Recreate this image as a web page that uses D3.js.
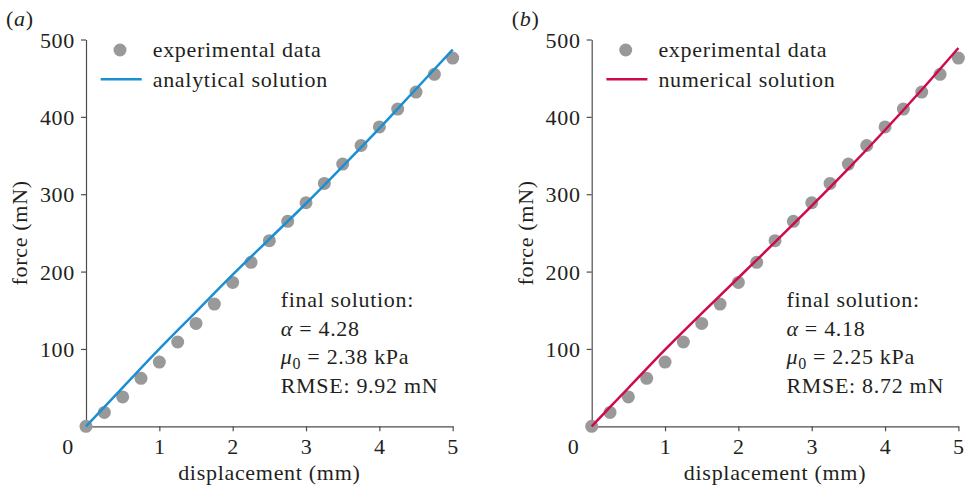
<!DOCTYPE html>
<html>
<head>
<meta charset="utf-8">
<script src="https://cdn.jsdelivr.net/npm/d3@7"></script>
<style>
  body { margin: 0; background: #fff; }
  svg, svg text { font-family: "Liberation Serif", "Times New Roman", "DejaVu Serif", serif !important; }
  text { fill: #231f20; letter-spacing: 0.7px; }
</style>
</head>
<body>
<script>
var width = 965,
    height = 491;

// experimental measurements (mm, mN)
var displacement = [0, 0.25, 0.5, 0.75, 1, 1.25, 1.5, 1.75, 2, 2.25, 2.5, 2.75, 3, 3.25, 3.5, 3.75, 4, 4.25, 4.5, 4.75, 5];
var experimental = [0, 18, 38, 62, 83, 109, 133, 158, 186, 212, 240, 265, 289, 314, 339, 363, 387, 410, 432, 455, 476];

// fitted curves
var fitDisplacement = [0, 0.5, 1, 1.5, 2, 2.5, 3, 3.5, 4, 4.5, 5];
var analytical = [0, 50, 100, 148, 196, 242, 288, 336, 385, 436, 487];
var numerical  = [0, 49.5, 99, 146, 192, 238, 285, 333, 383, 435, 489];

var xTicks = [1, 2, 3, 4, 5],
    yTicks = [100, 200, 300, 400, 500];

var panelLabels = ["a", "b"],
    curveNames = ["analytical solution", "numerical solution"],
    curveColors = ["#1a8fd2", "#cf0a4a"],
    alphas = ["4.28", "4.18"],
    mus = ["2.38", "2.25"],
    rmses = ["9.92", "8.72"];

var panelOffsets = [0, 505.7];
var fs = 22;

var svg = d3.select("body").append("svg")
    .attr("width", width)
    .attr("height", height)
    .attr("font-family", "Liberation Serif, Times New Roman, serif");

var y = d3.scaleLinear()
    .domain([0, 500])
    .range([426.3, 39.5]);

[analytical, numerical].forEach(function(fit, i) {
  var ox = panelOffsets[i];
  var x = d3.scaleLinear()
      .domain([0, 5])
      .range([86 + ox, 452.7 + ox]);

  var g = svg.append("g");

  // axes
  var xAxis = g.append("g")
      .attr("transform", "translate(0," + y(0) + ")")
      .call(d3.axisBottom(x).tickValues(xTicks).tickSize(5).tickSizeOuter(0).tickFormat(d3.format("d")));
  var yAxis = g.append("g")
      .attr("transform", "translate(" + x(0) + ",0)")
      .call(d3.axisLeft(y).tickValues(yTicks).tickSize(5).tickSizeOuter(0).tickFormat(d3.format("d")));

  [xAxis, yAxis].forEach(function(a) {
    a.attr("font-family", null).attr("font-size", null);
    a.select(".domain").attr("stroke", "#4d4d4d").attr("stroke-width", 1.2);
    a.selectAll(".tick line").attr("stroke", "#4d4d4d").attr("stroke-width", 1.2);
    a.selectAll(".tick text")
        .attr("font-size", fs)
        .attr("fill", "#231f20");
  });
  xAxis.selectAll(".tick text").attr("dy", null).attr("y", 28);
  yAxis.selectAll(".tick text").attr("x", -11).attr("dy", "0.35em");

  // shared origin label
  g.append("text")
      .attr("x", x(0) - 18)
      .attr("y", y(0) + 28)
      .attr("text-anchor", "middle")
      .attr("font-size", fs)
      .text("0");

  g.append("text")
      .attr("x", x(2.5))
      .attr("y", 480)
      .attr("text-anchor", "middle")
      .attr("font-size", fs)
      .text("displacement (mm)");

  g.append("text")
      .attr("transform", "translate(" + (27 + ox) + "," + y(250) + ") rotate(-90)")
      .attr("text-anchor", "middle")
      .attr("font-size", fs)
      .text("force (mN)");

  g.append("text")
      .attr("x", 6 + ox)
      .attr("y", 26)
      .attr("font-size", fs)
      .html("(<tspan font-style='italic'>" + panelLabels[i] + "</tspan>)");

  // experimental points
  g.selectAll("circle.exp")
      .data(displacement)
    .enter().append("circle")
      .attr("class", "exp")
      .attr("cx", function(d) { return x(d); })
      .attr("cy", function(d, j) { return y(experimental[j]); })
      .attr("r", 6.5)
      .attr("fill", "#999999");

  // fitted curve
  var line = d3.line()
      .x(function(d) { return x(d); })
      .y(function(d, j) { return y(fit[j]); })
      .curve(d3.curveMonotoneX);

  g.append("path")
      .datum(fitDisplacement)
      .attr("d", line)
      .attr("fill", "none")
      .attr("stroke", curveColors[i])
      .attr("stroke-width", 2.5);

  // legend
  g.append("circle")
      .attr("cx", 120 + ox)
      .attr("cy", 50)
      .attr("r", 6.5)
      .attr("fill", "#999999");
  g.append("text")
      .attr("x", 152.7 + ox)
      .attr("y", 57)
      .attr("font-size", fs)
      .text("experimental data");
  g.append("line")
      .attr("x1", 100.7 + ox)
      .attr("x2", 141.7 + ox)
      .attr("y1", 79.3)
      .attr("y2", 79.3)
      .attr("stroke", curveColors[i])
      .attr("stroke-width", 2.5);
  g.append("text")
      .attr("x", 152.7 + ox)
      .attr("y", 86.5)
      .attr("font-size", fs)
      .text(curveNames[i]);

  // fit summary
  var tx = 280.7 + ox;
  g.append("text").attr("x", tx).attr("y", 307).attr("font-size", fs)
      .text("final solution:");
  g.append("text").attr("x", tx).attr("y", 336).attr("font-size", fs)
      .html("<tspan font-style='italic'>\u03b1</tspan> = " + alphas[i]);
  g.append("text").attr("x", tx).attr("y", 364).attr("font-size", fs)
      .html("<tspan font-style='italic'>\u03bc</tspan><tspan font-size='16' dy='5'>0</tspan><tspan dy='-5'> = " + mus[i] + " kPa</tspan>");
  g.append("text").attr("x", tx).attr("y", 393).attr("font-size", fs)
      .text("RMSE: " + rmses[i] + " mN");
});
</script>
</body>
</html>
